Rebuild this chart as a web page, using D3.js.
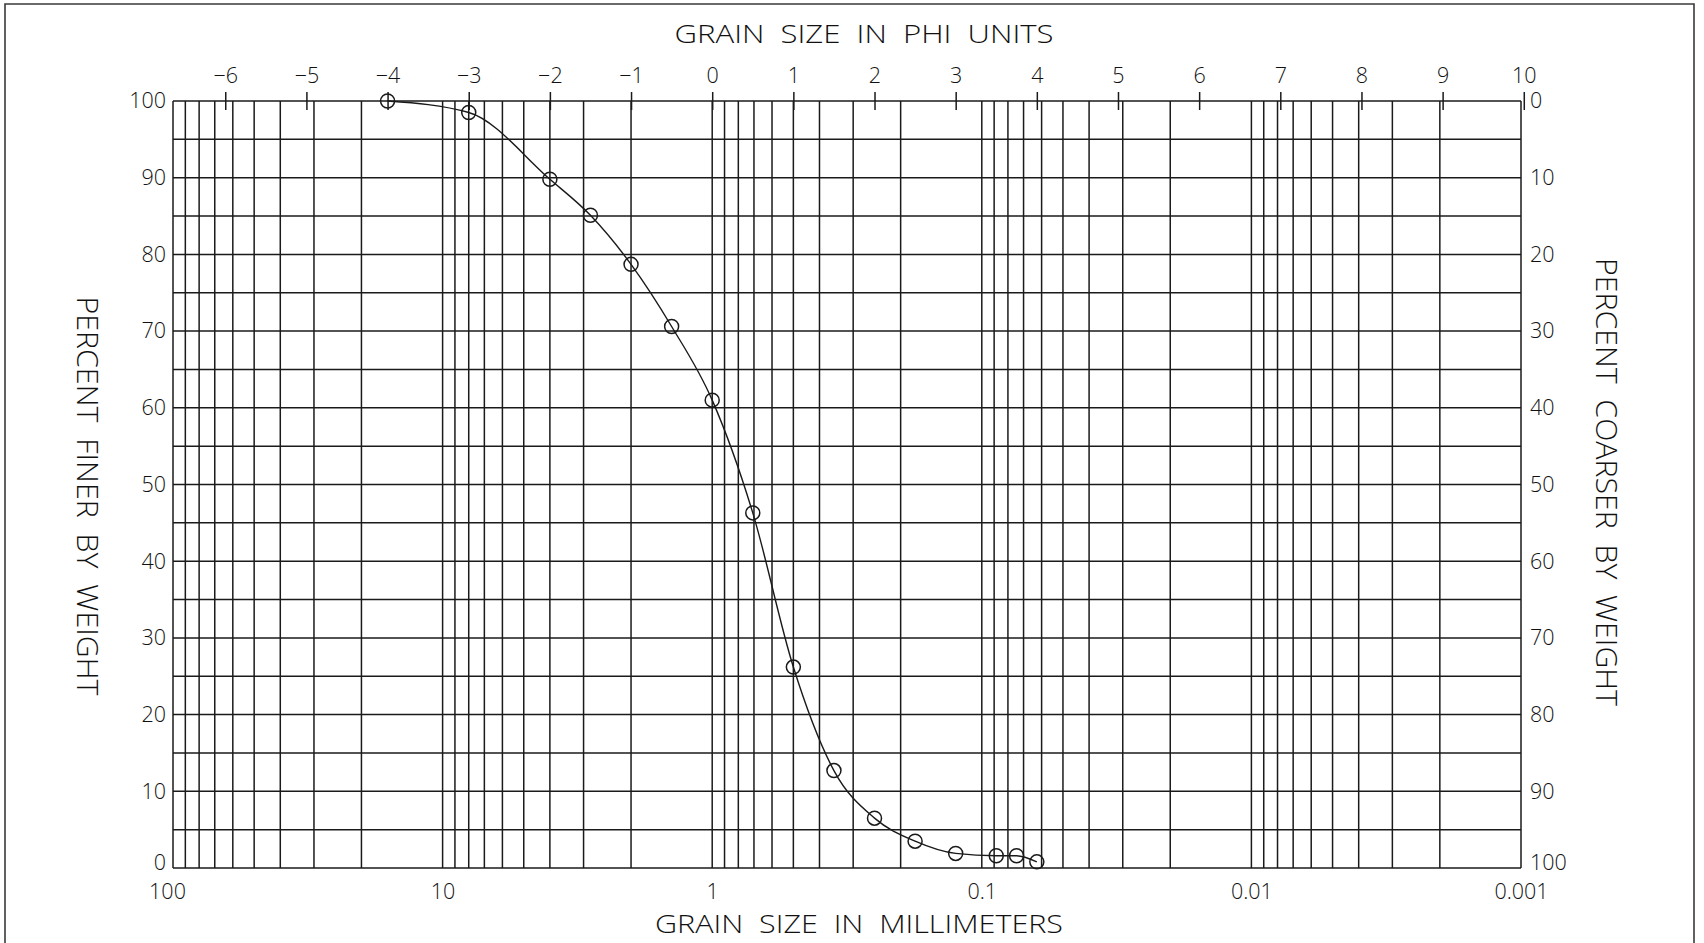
<!DOCTYPE html>
<html>
<head>
<meta charset="utf-8">
<script src="https://cdn.jsdelivr.net/npm/d3@7"></script>
<style>
  body { margin: 0; background: #fff; }
  svg text { font-family: "Open Sans", "DejaVu Sans", sans-serif; font-weight: 300; fill: #111; }
  .tick text { font-size: 21.5px; }
  .title { font-size: 26px; white-space: pre; }
  .ytitle { font-size: 29px; white-space: pre; }
</style>
</head>
<body>
<div id="chart"></div>
<script>
// grain size in phi units and cumulative percent finer by weight
const phiVals = [-4, -3, -2, -1.5, -1, -0.5, 0, 0.5, 1, 1.5, 2, 2.5, 3, 3.5, 3.75, 4];
const pctFiner = [100, 98.5, 89.8, 85.1, 78.7, 70.6, 61.0, 46.3, 26.2, 12.7, 6.5, 3.5, 1.9, 1.6, 1.6, 0.8];

// tick labels
const mmTicks = [100, 10, 1, 0.1, 0.01, 0.001];
const phiTicks = [-6, -5, -4, -3, -2, -1, 0, 1, 2, 3, 4, 5, 6, 7, 8, 9, 10];
const pctTicks = [0, 10, 20, 30, 40, 50, 60, 70, 80, 90, 100];

let width = 1704;
let height = 943;
let margin = { top: 101, right: 183, bottom: 75, left: 173 };

let x = d3.scaleLog()
	.domain([100, 0.001])
	.range([margin.left, width - margin.right]);

let phi = d3.scaleLinear()
	.domain([-Math.log2(100), -Math.log2(0.001)])
	.range(x.range());

let y = d3.scaleLinear()
	.domain([0, 100])
	.range([height - margin.bottom, margin.top]);

let y_coarse = d3.scaleLinear()
	.domain([0, 100])
	.range([margin.top, height - margin.bottom]);

let data = phiVals.map((p, i) => ({ mm: Math.pow(2, -p), pct: pctFiner[i] }));

let svg = d3.select("#chart")
	.append("svg")
	.attr("width", width)
	.attr("height", height);

// outer frame (bottom edge is cut off in the scan)
svg.append("path")
	.attr("d", `M5,${height} V4 H1694 V${height}`)
	.attr("fill", "none")
	.attr("stroke", "#3a3a3a")
	.attr("stroke-width", 1.6);

let grid = svg.append("g")
	.attr("stroke", "#1a1a1a")
	.attr("stroke-width", 1.5);

// vertical log grid, 1..9 in every decade
grid.selectAll(".vgrid")
	.data(x.ticks())
	.enter()
	.append("line")
	.attr("x1", d => x(d))
	.attr("x2", d => x(d))
	.attr("y1", y(100))
	.attr("y2", y(0));

// horizontal grid every 5 percent
grid.selectAll(".hgrid")
	.data(d3.range(0, 101, 5))
	.enter()
	.append("line")
	.attr("x1", x(100))
	.attr("x2", x(0.001))
	.attr("y1", d => y(d))
	.attr("y2", d => y(d));

// phi axis on top, ticks cross the frame
let phi_tick = 18;
svg.append("g")
	.attr("transform", `translate(0,${margin.top + phi_tick / 2})`)
	.call(d3.axisTop(phi).tickValues(phiTicks).tickSize(phi_tick).tickPadding(9))
	.call(g => g.select(".domain").remove())
	.call(g => g.selectAll(".tick line").attr("stroke", "#1a1a1a").attr("stroke-width", 1.5));

// millimeter axis on bottom
svg.append("g")
	.attr("transform", `translate(0,${height - margin.bottom})`)
	.call(d3.axisBottom(x).tickValues(mmTicks).tickSize(0).tickPadding(16).tickFormat(d3.format("~g")))
	.call(g => g.select(".domain").remove())
	.call(g => g.selectAll(".tick text").filter(d => d === 100).attr("dx", -6));

svg.append("g")
	.attr("transform", `translate(${margin.left},0)`)
	.call(d3.axisLeft(y).tickValues(pctTicks).tickSize(0).tickPadding(7))
	.call(g => g.select(".domain").remove())
	.call(g => g.selectAll(".tick text").filter(d => d === 0).attr("dy", "0.08em"));

svg.append("g")
	.attr("transform", `translate(${width - margin.right},0)`)
	.call(d3.axisRight(y_coarse).tickValues(pctTicks).tickSize(0).tickPadding(9))
	.call(g => g.select(".domain").remove())
	.call(g => g.selectAll(".tick text").filter(d => d === 100).attr("dy", "0.08em"));

svg.selectAll(".tick text").attr("fill", "#111");

// titles
svg.append("text")
	.attr("class", "title")
	.attr("x", 864)
	.attr("y", 43)
	.attr("text-anchor", "middle")
	.attr("textLength", 379)
	.attr("lengthAdjust", "spacingAndGlyphs")
	.text("GRAIN  SIZE  IN  PHI  UNITS");

svg.append("text")
	.attr("class", "title")
	.attr("x", 859)
	.attr("y", 933)
	.attr("text-anchor", "middle")
	.attr("textLength", 408)
	.attr("lengthAdjust", "spacingAndGlyphs")
	.text("GRAIN  SIZE  IN  MILLIMETERS");

svg.append("text")
	.attr("class", "ytitle")
	.attr("transform", "translate(87,496) rotate(90)")
	.attr("dy", "0.36em")
	.attr("text-anchor", "middle")
	.attr("textLength", 399)
	.attr("lengthAdjust", "spacingAndGlyphs")
	.text("PERCENT  FINER  BY  WEIGHT");

svg.append("text")
	.attr("class", "ytitle")
	.attr("transform", "translate(1606,482) rotate(90)")
	.attr("dy", "0.36em")
	.attr("text-anchor", "middle")
	.attr("textLength", 448)
	.attr("lengthAdjust", "spacingAndGlyphs")
	.text("PERCENT  COARSER  BY  WEIGHT");

// grain size curve
let line = d3.line()
	.x(d => x(d.mm))
	.y(d => y(d.pct))
	.curve(d3.curveMonotoneX);

svg.append("path")
	.datum(data)
	.attr("d", line)
	.attr("fill", "none")
	.attr("stroke", "#1a1a1a")
	.attr("stroke-width", 1.4);

svg.selectAll(".pt")
	.data(data)
	.enter()
	.append("circle")
	.attr("cx", d => x(d.mm))
	.attr("cy", d => y(d.pct))
	.attr("r", 7)
	.attr("fill", "none")
	.attr("stroke", "#1a1a1a")
	.attr("stroke-width", 1.5);
</script>
</body>
</html>
